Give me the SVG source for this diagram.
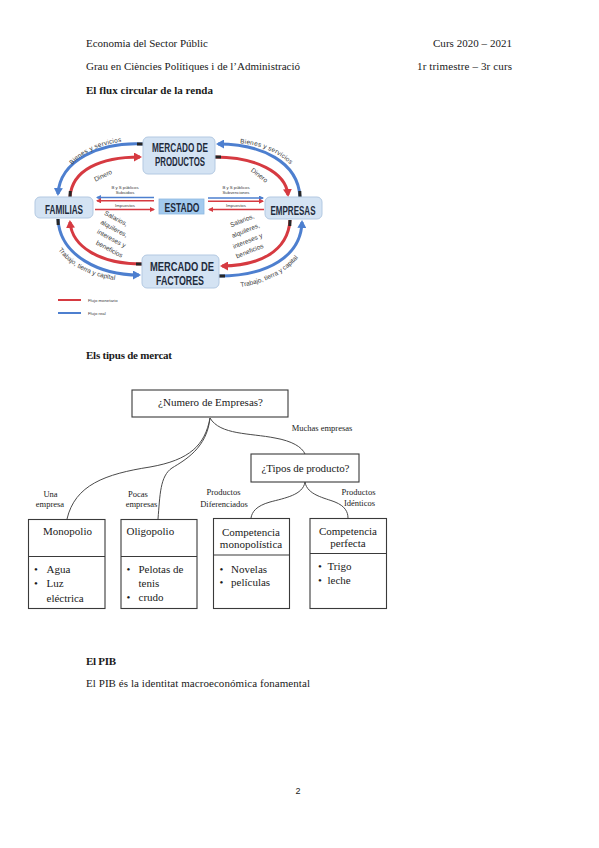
<svg xmlns="http://www.w3.org/2000/svg" width="599" height="848" viewBox="0 0 599 848">
<defs>
<style>
.ser{font-family:"Liberation Serif","Times New Roman",serif;fill:#1a1a1a}
.hd{font-size:11px}
.bd{font-weight:bold}
.nd{font-family:"Liberation Sans",Arial,sans-serif;font-weight:bold;fill:#1e2b3c;text-anchor:middle}
.lb{font-family:"Liberation Sans",Arial,sans-serif;fill:#3a3a3a;font-size:6.5px;text-anchor:middle}
.tiny{font-family:"Liberation Sans",Arial,sans-serif;fill:#3a3a3a;font-size:4.3px;text-anchor:middle}
.leg{font-family:"Liberation Sans",Arial,sans-serif;fill:#3a3a3a;font-size:4.3px;text-anchor:start}
.box{fill:#d4e3f3;stroke:#b3c9e2;stroke-width:1}
.blue{fill:none;stroke:#4d7fcf;stroke-width:3}
.red{fill:none;stroke:#d63a41;stroke-width:3}
.tail{fill:none;stroke:#262626;stroke-width:3}
.bthin{fill:none;stroke:#4d7fcf;stroke-width:1.4}
.rthin{fill:none;stroke:#d63a41;stroke-width:1.4}
.mb{fill:#fff;stroke:#3a3a3a;stroke-width:1.1}
.con{fill:none;stroke:#4a4a4a;stroke-width:1}
.t11{font-size:11px}
.t85{font-size:8.5px;text-anchor:middle}
.mid{text-anchor:middle}
</style>
<marker id="ab" markerUnits="userSpaceOnUse" markerWidth="9" markerHeight="9" refX="6" refY="4.5" orient="auto"><path d="M0,0 L8,4.5 L0,9 z" fill="#4d7fcf"/></marker>
<marker id="ar" markerUnits="userSpaceOnUse" markerWidth="9" markerHeight="9" refX="6" refY="4.5" orient="auto"><path d="M0,0 L8,4.5 L0,9 z" fill="#d63a41"/></marker>
<marker id="sb" markerUnits="userSpaceOnUse" markerWidth="5" markerHeight="5" refX="4" refY="2.5" orient="auto"><path d="M0,0 L5,2.5 L0,5 z" fill="#4d7fcf"/></marker>
<marker id="sr" markerUnits="userSpaceOnUse" markerWidth="5" markerHeight="5" refX="4" refY="2.5" orient="auto"><path d="M0,0 L5,2.5 L0,5 z" fill="#d63a41"/></marker>
<path id="tpTL" d="M68,170 Q86,145 128,141"/>
<path id="tpTR" d="M232,143 Q272,143 296,170"/>
<path id="tpBL" d="M55,245 Q73,275 121,281"/>
<path id="tpBR" d="M231,288 Q281,284 304,250"/>
</defs>

<!-- Page header -->
<g id="header">
<text class="ser hd" x="86" y="46.5" textLength="122">Economia del Sector Públic</text>
<text class="ser hd" x="433" y="46.5" textLength="79">Curs 2020 – 2021</text>
<text class="ser hd" x="86" y="70" textLength="214">Grau en Ciències Polítiques i de l’Administració</text>
<text class="ser hd" x="417" y="70" textLength="95">1r trimestre – 3r curs</text>
<text class="ser hd bd" x="86" y="93.5" textLength="127">El flux circular de la renda</text>
</g>

<!-- Circular flow: connectors -->
<g id="flow-connectors">
<path class="blue" d="M143,144 C100,142 60,160 58,194" marker-end="url(#ab)"/>
<path class="red" d="M70,197 C72,170 100,157 140,157" marker-end="url(#ar)"/>
<path class="blue" d="M300,197 C298,162 262,144 218,144" marker-end="url(#ab)"/>
<path class="red" d="M215,157 C255,157 286,172 288,195" marker-end="url(#ar)"/>
<path class="red" d="M290,220 C288,252 258,266 222,266" marker-end="url(#ar)"/>
<path class="blue" d="M219,276 C268,276 301,256 302,222" marker-end="url(#ab)"/>
<path class="red" d="M142,264 C100,264 72,247 70,222" marker-end="url(#ar)"/>
<path class="blue" d="M58,219 C60,256 100,275 139,275" marker-end="url(#ab)"/>
<path class="tail" d="M143,144 L137,144"/>
<path class="tail" d="M70,197 L70.3,191"/>
<path class="tail" d="M300,197 L299.8,191"/>
<path class="tail" d="M215,157 L221,157"/>
<path class="tail" d="M290,220 L289.8,226"/>
<path class="tail" d="M219,276 L225,276"/>
<path class="tail" d="M142,264 L136,264"/>
<path class="tail" d="M58,219 L58.2,225"/>
<path class="bthin" d="M154,197.5 L97,197.5" marker-end="url(#sb)"/>
<path class="rthin" d="M154,200.8 L97,200.8" marker-end="url(#sr)"/>
<path class="rthin" d="M95,209.5 L154,209.5" marker-end="url(#sr)"/>
<path class="bthin" d="M208,198 L263,198" marker-end="url(#sb)"/>
<path class="rthin" d="M208,201.2 L263,201.2" marker-end="url(#sr)"/>
<path class="rthin" d="M264,209.5 L209,209.5" marker-end="url(#sr)"/>
</g>

<!-- Circular flow: labels -->
<g id="flow-labels">
<text class="lb" font-size="7"><textPath href="#tpTL" startOffset="50%" textLength="56">Bienes y servicios</textPath></text>
<text class="lb" font-size="7"><textPath href="#tpTR" startOffset="50%" textLength="56">Bienes y servicios</textPath></text>
<text class="lb" font-size="7.5"><textPath href="#tpBL" startOffset="50%" textLength="66">Trabajo, tierra y capital</textPath></text>
<text class="lb" font-size="7.5"><textPath href="#tpBR" startOffset="50%" textLength="66">Trabajo, tierra y capital</textPath></text>
<text class="lb" transform="translate(104,177.5) rotate(-26)">Dinero</text>
<text class="lb" transform="translate(258,177) rotate(38)">Dinero</text>
<text class="lb" transform="translate(115,220.5) rotate(28)">Salarios,</text>
<text class="lb" transform="translate(113,230.5) rotate(28)">alquileres,</text>
<text class="lb" transform="translate(110.5,240.5) rotate(28)">intereses y</text>
<text class="lb" transform="translate(108.5,251) rotate(28)">beneficios</text>
<text class="lb" transform="translate(243,222.5) rotate(-22)">Salarios,</text>
<text class="lb" transform="translate(246.5,232.5) rotate(-22)">alquileres,</text>
<text class="lb" transform="translate(248.5,243) rotate(-22)">intereses y</text>
<text class="lb" transform="translate(250.5,253) rotate(-22)">beneficios</text>
<text class="tiny" x="125" y="188.5">B y S públicos</text>
<text class="tiny" x="125" y="193.5">Subsidios</text>
<text class="tiny" x="125" y="207">Impuestos</text>
<text class="tiny" x="236" y="188.5">B y S públicos</text>
<text class="tiny" x="236" y="194">Subvenciones</text>
<text class="tiny" x="236" y="207">Impuestos</text>
</g>

<!-- Circular flow: nodes -->
<g id="mercado-productos">
<rect class="box" x="143" y="137" width="72" height="37" rx="5"/>
<text class="nd" x="180" y="152" font-size="13" textLength="56" lengthAdjust="spacingAndGlyphs">MERCADO DE</text>
<text class="nd" x="180" y="165.5" font-size="13" textLength="50" lengthAdjust="spacingAndGlyphs">PRODUCTOS</text>
</g>
<g id="familias">
<rect class="box" x="35" y="197" width="58" height="21" rx="5"/>
<text class="nd" x="64" y="214" font-size="12" textLength="38" lengthAdjust="spacingAndGlyphs">FAMILIAS</text>
</g>
<g id="estado">
<rect x="159" y="199" width="45" height="15" fill="#a3caee" stroke="#8db8e2" stroke-width="0.8"/>
<text class="nd" x="182" y="211.5" font-size="12" textLength="35" lengthAdjust="spacingAndGlyphs">ESTADO</text>
</g>
<g id="empresas">
<rect class="box" x="265" y="197" width="57" height="22" rx="5"/>
<text class="nd" x="293" y="214.5" font-size="12" textLength="45" lengthAdjust="spacingAndGlyphs">EMPRESAS</text>
</g>
<g id="mercado-factores">
<rect class="box" x="142" y="255" width="77" height="33" rx="5"/>
<text class="nd" x="182" y="270.5" font-size="13" textLength="64" lengthAdjust="spacingAndGlyphs">MERCADO DE</text>
<text class="nd" x="180" y="284.5" font-size="13" textLength="48" lengthAdjust="spacingAndGlyphs">FACTORES</text>
</g>
<g id="legend">
<line x1="58" y1="300" x2="81" y2="300" stroke="#d63a41" stroke-width="2"/>
<line x1="58" y1="313" x2="81" y2="313" stroke="#4d7fcf" stroke-width="2"/>
<text class="leg" x="88" y="301.5">Flujo monetario</text>
<text class="leg" x="88" y="314.5">Flujo real</text>
</g>

<!-- Section 2 -->
<text class="ser hd bd" x="86" y="358.5" textLength="86">Els tipus de mercat</text>

<g id="market-connectors">
<path class="con" d="M210,418 C205,445 190,460 150,467 C105,474 75,485 67,519"/>
<path class="con" d="M210,418 C207,448 185,460 172,468 C160,476 160,495 158,519"/>
<path class="con" d="M210,418 C220,435 250,433 275,438 C292,441 302,447 305,454"/>
<path class="con" d="M305,482 C303,495 285,498 270,502 C256,506 252,512 251,518"/>
<path class="con" d="M305,482 C307,495 325,498 335,502 C345,506 348,512 348,518"/>
</g>

<g id="market-labels" class="ser">
<text class="t85" x="50.5" y="496.5">Una</text>
<text class="t85" x="50" y="507">empresa</text>
<text class="t85" x="138" y="496.5">Pocas</text>
<text class="t85" x="141.5" y="507">empresas</text>
<text class="t85" x="223.5" y="495">Productos</text>
<text class="t85" x="224" y="506.5">Diferenciados</text>
<text class="t85" x="358.5" y="495">Productos</text>
<text class="t85" x="359.5" y="506">Idénticos</text>
<text class="t85" x="322" y="431">Muchas empresas</text>
</g>

<g id="numero-empresas">
<rect class="mb" x="132" y="390" width="156" height="27"/>
<text class="ser t11 mid" x="210.5" y="406" textLength="105">¿Numero de Empresas?</text>
</g>
<g id="tipos-producto">
<rect class="mb" x="251" y="454" width="108" height="28"/>
<text class="ser t11 mid" x="305.5" y="472" textLength="88">¿Tipos de producto?</text>
</g>
<g id="monopolio">
<rect class="mb" x="28.5" y="519.5" width="76.5" height="89"/>
<line x1="28.5" y1="556.5" x2="105" y2="556.5" stroke="#3a3a3a" stroke-width="1.1"/>
<text class="ser t11 mid" x="67.5" y="535">Monopolio</text>
<text class="ser t11" x="34" y="573">•</text><text class="ser t11" x="46.5" y="573">Agua</text>
<text class="ser t11" x="34" y="587">•</text><text class="ser t11" x="46.5" y="587">Luz</text>
<text class="ser t11" x="46.5" y="601.5">eléctrica</text>
</g>
<g id="oligopolio">
<rect class="mb" x="121" y="519.5" width="76" height="89"/>
<line x1="121" y1="556.5" x2="197" y2="556.5" stroke="#3a3a3a" stroke-width="1.1"/>
<text class="ser t11" x="126.5" y="535">Oligopolio</text>
<text class="ser t11" x="126.5" y="573">•</text><text class="ser t11" x="138.5" y="573">Pelotas de</text>
<text class="ser t11" x="138.5" y="587">tenis</text>
<text class="ser t11" x="126.5" y="601">•</text><text class="ser t11" x="138.5" y="601">crudo</text>
</g>
<g id="competencia-monopolistica">
<rect class="mb" x="213.5" y="518.5" width="76" height="90"/>
<line x1="213.5" y1="555" x2="289.5" y2="555" stroke="#3a3a3a" stroke-width="1.1"/>
<text class="ser t11 mid" x="251" y="535.5">Competencia</text>
<text class="ser t11 mid" x="251" y="547.5">monopolística</text>
<text class="ser t11" x="219.5" y="572.5">•</text><text class="ser t11" x="231" y="572.5">Novelas</text>
<text class="ser t11" x="219.5" y="585.5">•</text><text class="ser t11" x="231" y="585.5">películas</text>
</g>
<g id="competencia-perfecta">
<rect class="mb" x="310" y="518.5" width="76.5" height="90"/>
<line x1="310" y1="553.5" x2="386.5" y2="553.5" stroke="#3a3a3a" stroke-width="1.1"/>
<text class="ser t11 mid" x="348" y="534.5">Competencia</text>
<text class="ser t11 mid" x="348" y="547">perfecta</text>
<text class="ser t11" x="318" y="569.5">•</text><text class="ser t11" x="327.5" y="569.5">Trigo</text>
<text class="ser t11" x="318" y="584">•</text><text class="ser t11" x="327.5" y="584">leche</text>
</g>

<!-- Section 3 -->
<g id="pib">
<text class="ser hd bd" x="86" y="665" textLength="30">El PIB</text>
<text class="ser hd" x="86" y="686.5" textLength="224">El PIB és la identitat macroeconómica fonamental</text>
</g>
<text x="298" y="794" font-family="Liberation Sans, Arial, sans-serif" font-size="9" text-anchor="middle" fill="#222">2</text>
</svg>
